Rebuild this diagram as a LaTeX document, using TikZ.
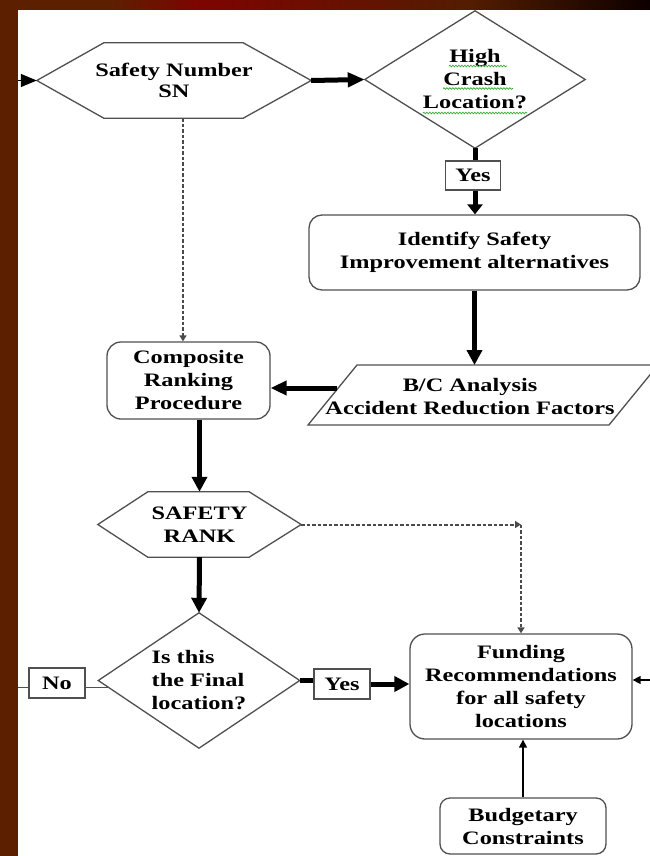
\documentclass[tikz,border=0pt]{standalone}
\usepackage{fontspec}
\setmainfont{Liberation Serif}[FakeStretch=1.28]
\usetikzlibrary{arrows.meta,calc,decorations.pathmorphing}
\definecolor{brownc}{HTML}{5C2000}
\definecolor{redc}{HTML}{7E0400}
\definecolor{outl}{HTML}{505050}
\definecolor{dashc}{HTML}{4A4A4A}
\definecolor{spell}{HTML}{33AA33}
\begin{document}
\begin{tikzpicture}[x=1pt,y=-1pt,
  txt/.style={font=\bfseries\fontsize{19}{23}\selectfont, align=center, text=black},
  shapeline/.style={draw=outl, line width=1.3pt},
  box/.style={txt, shapeline, rounded corners=13pt, inner sep=0pt},
  tagbox/.style={txt, shapeline, rounded corners=0pt, inner sep=0pt, minimum width=56pt, minimum height=30pt},
  plain/.style={txt, draw=none, inner sep=0pt},
  thickline/.style={line width=5pt},
  thickarrow/.style={line width=5pt, -{Triangle[length=15pt,width=15pt]}},
  thinarrow/.style={line width=1.4pt, -{Triangle[length=8pt,width=8pt]}},
  dasharrow/.style={draw=dashc, line width=2pt, dash pattern=on 3.5pt off 2pt, -{Triangle[length=6pt,width=7pt]}},
  grayline/.style={draw=outl, line width=1.3pt},
  wavy/.style={draw=spell, line width=0.7pt, decorate, decoration={snake, amplitude=0.8pt, segment length=3pt}}]
\useasboundingbox (0,0) rectangle (650,856);
% background
\fill[white] (0,0) rectangle (650,856);
\fill[brownc] (0,0) rectangle (18,856);
\fill[brownc] (0,0) rectangle (110,10);
\shade[left color=brownc, right color=redc] (110,0) rectangle (200,10);
\shade[left color=redc, right color=brownc!90!black] (200,0) rectangle (470,10);
\shade[left color=brownc!90!black, right color=black!95!red] (470,0) rectangle (650,10);

% nodes
\node[plain, minimum width=274pt, minimum height=75pt, font=\bfseries\fontsize{19}{21}\selectfont] (sn) at (174,80.5) {Safety Number\\SN};
\draw[shapeline] (sn.west) -- ([xshift=67pt]sn.north west) -- ([xshift=-68pt]sn.north east) -- (sn.east)
  -- ([xshift=-68pt]sn.south east) -- ([xshift=67pt]sn.south west) -- cycle;

\node[plain, minimum width=220pt, minimum height=137pt] (hc) at (475,79.5) {High\\Crash\\Location?};
\draw[shapeline] (hc.north) -- (hc.east) -- (hc.south) -- (hc.west) -- cycle;
\draw[wavy] (449,66) -- (507,66);
\draw[wavy] (443,88.5) -- (513,88.5);
\draw[wavy] (423,113) -- (527,113);

\node[tagbox, minimum width=55pt, minimum height=29pt] (yes1) at (473,175.5) {Yes};
\node[box, minimum width=331pt, minimum height=75pt] (idf) at (474.5,252.5) {Identify Safety\\Improvement alternatives};

\node[box, minimum width=163pt, minimum height=77pt, rounded corners=14pt] (comp) at (188.5,380.5) {Composite\\Ranking\\Procedure};

\node[plain] (bc) at (470,397) {B/C Analysis\\Accident Reduction Factors};
\coordinate (bcTL) at (357,365);
\coordinate (bcTR) at (658,365);
\coordinate (bcBR) at (609,425);
\coordinate (bcBL) at (308,425);
\coordinate (bcL) at (337,388);
\draw[shapeline] (bcTL) -- (bcTR) -- (bcBR) -- (bcBL) -- cycle;

\node[plain, minimum width=203pt, minimum height=65pt] (sr) at (199.5,524.5) {SAFETY\\RANK};
\draw[shapeline] (sr.west) -- ([xshift=50pt]sr.north west) -- ([xshift=-52pt]sr.north east) -- (sr.east)
  -- ([xshift=-52pt]sr.south east) -- ([xshift=50pt]sr.south west) -- cycle;

\node[plain, minimum width=201pt, minimum height=135pt, align=left] (fin) at (199,680.5) {Is this\\the Final\\location?};
\draw[shapeline] (fin.north) -- (fin.east) -- (fin.south) -- (fin.west) -- cycle;
\node[tagbox] (no) at (57,683) {No};
\node[tagbox] (yes2) at (342,684) {Yes};

\node[box, minimum width=222pt, minimum height=105pt, rounded corners=15pt] (fund) at (521,686.5) {Funding\\Recommendations\\for all safety\\locations};
\node[box, minimum width=166pt, minimum height=56pt, rounded corners=10pt] (bud) at (523,826) {Budgetary\\Constraints};

% connectors
\coordinate (inL) at (18,80.5);
\draw[line width=1.3pt, -{Triangle[length=16pt,width=13pt]}] (inL) -- (sn.west);
\draw[thickarrow, -{Triangle[length=17pt,width=14pt]}] (sn.east) -- (hc.west);
\draw[thickline] (hc.south) -- (hc.south |- yes1.north);
\draw[thickarrow, -{Triangle[length=10pt,width=15pt]}] (hc.south |- yes1.south) -- (hc.south |- idf.north);
\draw[dasharrow] ([xshift=9pt]sn.south) -- ([xshift=9pt]sn.south |- comp.north);
\draw[thickarrow] (idf.south) -- (idf.south |- bcTL);
\draw[thickarrow, -{Triangle[length=16pt,width=14pt]}] (bcL) -- (comp.east |- bcL);
\draw[thickarrow] (sr.north |- comp.south) -- (sr.north);
\coordinate (cd) at (fund.north |- sr.east);
\draw[dasharrow] (sr.east) -- (cd);
\draw[dasharrow] (cd) -- (fund.north);
\draw[thickarrow] (sr.south) -- (fin.north);
\coordinate (finA) at ($(fin.west)!0.1!(fin.south)$);
\coordinate (leftedge) at (18,0);
\coordinate (edgeNo) at (finA -| leftedge);
\draw[grayline] (edgeNo) -- (no.west |- edgeNo);
\draw[grayline] (no.east |- edgeNo) -- (finA);
\draw[thickline] (fin.east) -- (fin.east -| yes2.west);
\draw[thickarrow] (yes2.east) -- (yes2.east -| fund.west);
\coordinate (edgeR) at (650,680);
\draw[thinarrow] (edgeR) -- (edgeR -| fund.east);
\draw[thinarrow] (bud.north) -- (bud.north |- fund.south);
\end{tikzpicture}
\end{document}
